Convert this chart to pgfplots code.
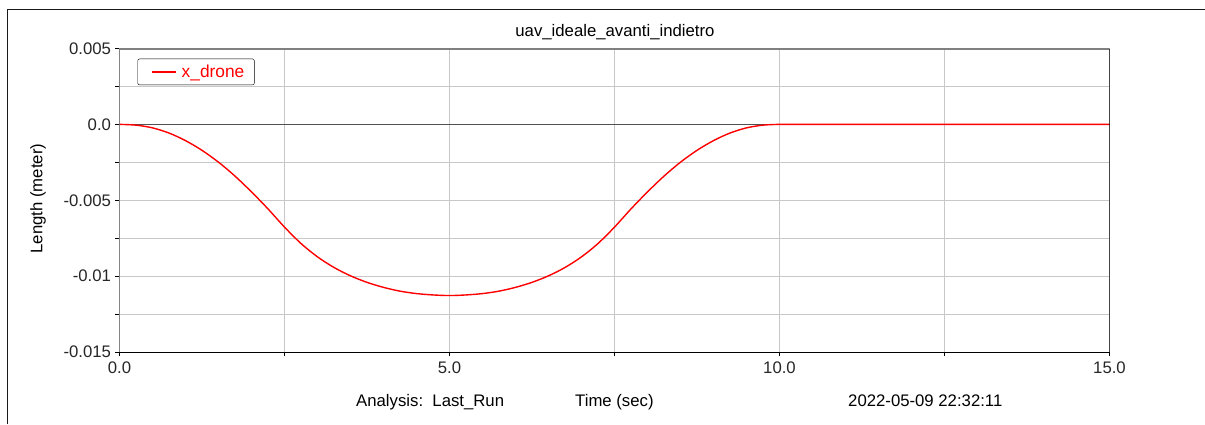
\documentclass[border=0pt]{standalone}
\usepackage{fontspec}
\setmainfont{Liberation Sans}
\usepackage{pgfplots}
\pgfplotsset{compat=1.18}
\definecolor{gridgray}{RGB}{200,200,200}
\definecolor{topgray}{RGB}{128,128,128}
\definecolor{leftgray}{RGB}{96,96,96}
\definecolor{zerogray}{RGB}{80,80,80}
\newcommand{\chartfont}{\fontsize{16.8}{20}\selectfont}
\begin{document}
\begin{tikzpicture}[x=1bp,y=1bp]
\begin{axis}[
  scale only axis, width=990bp, height=303.5bp,
  xmin=0, xmax=15, ymin=-0.015, ymax=0.005,
  axis line style={draw=none},
  xtick={0,2.5,5,7.5,10,12.5,15},
  xticklabels={0.0,,5.0,,10.0,,15.0},
  ytick={-0.015,-0.0125,-0.01,-0.0075,-0.005,-0.0025,0,0.0025,0.005},
  yticklabels={-0.015,,-0.01,,-0.005,,0.0,,0.005},
  scaled y ticks=false, scaled x ticks=false,
  tick pos=left, tick align=outside, major tick length=4bp,
  tick style={black, line width=0.8bp},
  grid=major, major grid style={color=gridgray, line width=1bp},
  ticklabel style={font=\chartfont, text=black!85},
  xticklabel style={yshift=-2bp},
  yticklabel style={xshift=-1bp},
  legend style={at={(rel axis cs:0.0182,0.9664)}, anchor=north west,
    draw=black, rounded corners=2bp, font=\fontsize{17.4}{20}\selectfont, text=red,
    inner xsep=8bp, inner ysep=4bp},
  legend image code/.code={\draw[draw=none] (0bp,0bp) -- (34bp,0bp); \draw[draw=red, line width=1.7bp] (6bp,0bp) -- (30bp,0bp);},
  legend cell align=left,
]
\draw[zerogray, line width=1bp] (axis cs:0,0) -- (axis cs:15,0);
\addplot[red, line width=1.4bp, smooth, tension=0.5] table {
t v
0 0
0.25 -0.00005
0.5 -0.00023
0.75 -0.00057
1.0 -0.00107
1.25 -0.00171
1.5 -0.00249
1.75 -0.00341
2.0 -0.00445
2.25 -0.00557
2.5 -0.00677
2.75 -0.00785
3.0 -0.00873
3.25 -0.00943
3.5 -0.00998
3.75 -0.01041
4.0 -0.01074
4.25 -0.01099
4.5 -0.01115
4.75 -0.01124
5.0 -0.01128
5.25 -0.01124
5.5 -0.01115
5.75 -0.01099
6.0 -0.01074
6.25 -0.01041
6.5 -0.00998
6.75 -0.00943
7.0 -0.00873
7.25 -0.00785
7.5 -0.00677
7.75 -0.00557
8.0 -0.00445
8.25 -0.00341
8.5 -0.00249
8.75 -0.00171
9.0 -0.00107
9.25 -0.00057
9.5 -0.00023
9.75 -0.00005
10.0 0
10.25 0
12.5 0
15.0 0
};
\addlegendentry{x\_drone}
\draw[topgray, line width=2bp] (rel axis cs:0,1) -- (rel axis cs:1,1);
\draw[leftgray, line width=1.5bp] (rel axis cs:0,0) -- (rel axis cs:0,1);
\draw[black, line width=1bp] (rel axis cs:1,0) -- (rel axis cs:1,1);
\draw[black, line width=1bp] (rel axis cs:0,0) -- (rel axis cs:1,0);
\end{axis}
\pgfresetboundingbox
\begin{scope}[shift={(current axis.south west)}]
\useasboundingbox (-119.5,-72) rectangle (1085.5,352);
\draw[black!90, line width=1.2bp] (-112,-72) -- (-112,342.5) -- (1085.5,342.5);
\node[font=\chartfont, anchor=base, inner sep=0pt] at (495.5,316) {uav\_ideale\_avanti\_indietro};
\node[font=\chartfont, anchor=base, rotate=90, inner sep=0pt] at (-77.2,153.3) {Length (meter)};
\node[font=\chartfont, anchor=base west, inner sep=0pt] at (236.5,-54.7) {Analysis:\ \ Last\_Run};
\node[font=\chartfont, anchor=base west, inner sep=0pt] at (455.5,-54.7) {Time (sec)};
\node[font=\chartfont, anchor=base west, inner sep=0pt] at (728.5,-54.7) {2022-05-09 22:32:11};
\end{scope}
\end{tikzpicture}
\end{document}
